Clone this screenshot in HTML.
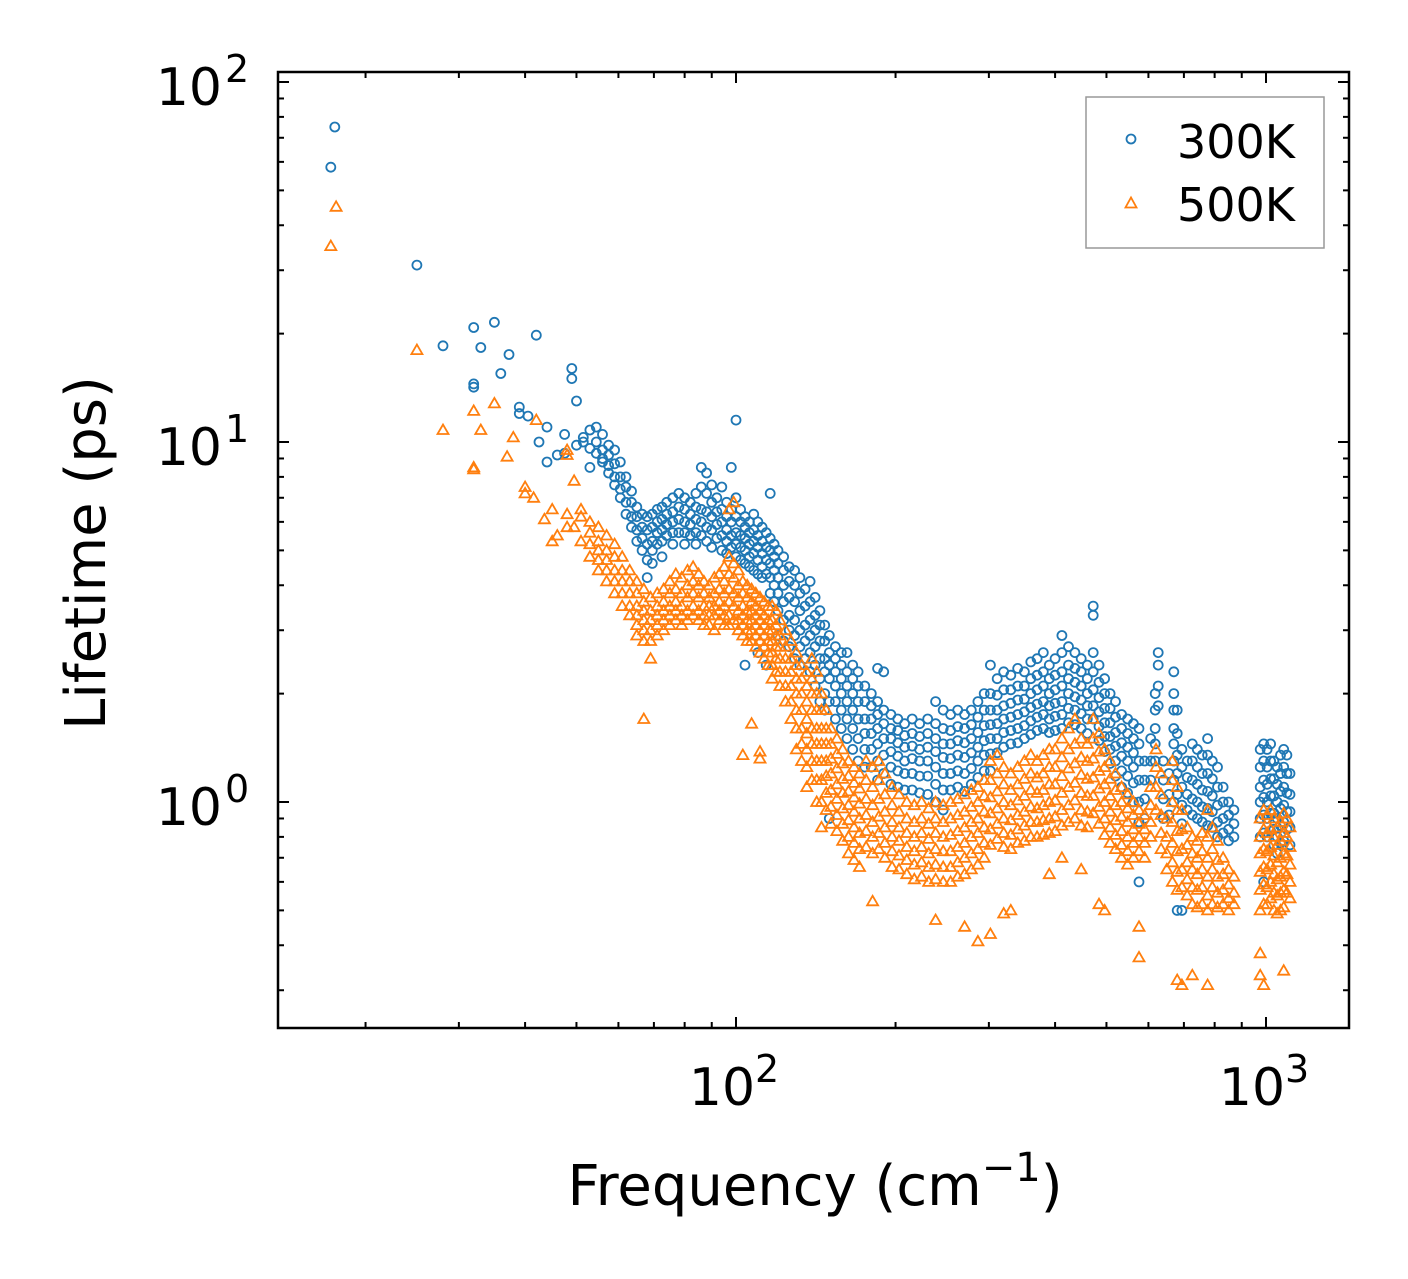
<!DOCTYPE html>
<html><head><meta charset="utf-8"><style>
html,body{margin:0;padding:0;background:#fff;}
svg{display:block;font-family:"DejaVu Sans","Liberation Sans",sans-serif;}
</style></head><body>
<svg id="chart" width="1408" height="1279" viewBox="0 0 1408 1279" xmlns="http://www.w3.org/2000/svg">
<rect x="0" y="0" width="1408" height="1279" fill="#fff"/>
<g id="marks300"></g>
<g id="marks500"></g>
<g id="axes"></g>
<g>
<rect x="1086" y="97" width="238" height="151" fill="#fff" stroke="#999" stroke-width="1.5"/>
<circle cx="1131" cy="139" r="4.5" fill="none" stroke="#1f77b4" stroke-width="1.8"/>
<text x="1177" y="158" font-size="46">300K</text>
<path d="M1125.5,207.5 L1136.5,207.5 L1131,197.5 Z" fill="none" stroke="#ff7f0e" stroke-width="1.8"/>
<text x="1177" y="221" font-size="46">500K</text>
</g>
<text x="815" y="1205" font-size="56" text-anchor="middle">Frequency (cm<tspan dy="-24" font-size="40">−1</tspan><tspan dy="24">)</tspan></text>
<text transform="translate(105,553) rotate(-90)" font-size="56" text-anchor="middle">Lifetime (ps)</text>
</svg>
<script>
const freq300=[17.2,17.5,25,28,32,33,35,36,37.3,39,40.5,42,42.5,44,46,47.5,49,50,51.5,53,54.5,56,57.5,59,60.5,62,63.5,65,66.5,68,69.5,71,72.5,74,76,78,80,82,84,86,88,90,92,94,96,98,100,102,104,106,108,110,112,114,116,118,120,123,126,129,132,135,138,141,144,147,150,154,158,162,166,170,175,180,185,190,196,202,208,215,222,230,238,246,254,262,270,278,286,294,302,311,320,330,340,350,360,370,380,390,400,412,424,436,448,460,472,484,496,508,520,534,548,562,576,590,606,618,626,640,656,670,680,694,710,726,742,758,776,792,810,830,850,870,975,990,1005,1020,1035,1050,1065,1080,1095,1110];
const life300=[[58],[75],[31],[18.5],[20.8,14.5,14.2],[18.3],[21.5],[15.5],[17.5],[12.5,12],[11.8],[19.8],[10],[8.8,11],[9.2],[10.5,9.3],[16,15],[13,9.8],[10,10.3],[10.8,8.5,9.6],[11,10,9.3],[10.5,9.5,9,8.8],[9.8,9.2,8.6,8.2],[9.5,8.7,8,7.6],[8.8,8,7.4,7],[8,7.5,6.8,6.3],[7.3,6.8,6.2,5.8],[6.6,6.2,5.7,5.3],[6.3,5.8,5.4,5],[6.2,5.7,5.2,4.7,4.2],[6.3,5.8,5.3,5,4.6],[6.5,6,5.6,5.2],[6.6,6.1,5.7,5.3,4.8],[6.8,6.3,5.9,5.5],[7,6.4,6,5.6,5.2],[7.2,6.6,6.1,5.6],[7,6.5,6,5.6,5.2],[6.8,6.3,5.9,5.5],[7.2,6.6,6.1,5.6,5.2],[8.5,7.5,6.5,6,5.5],[8.2,7.2,6.4,5.8,5.3],[7.6,6.8,6.2,5.7,5.1],[7,6.4,5.9,5.4],[7.5,6.5,6,5.5,5],[6.8,6.2,5.7,5.3,4.9],[8.5,6.5,6,5.5,5.1],[11.5,7,6.2,5.6,5.2,4.8],[6.5,6,5.5,5.1,4.7],[6.2,5.8,5.4,5,4.6,2.4],[6,5.6,5.2,4.8,4.5],[6.3,5.7,5.3,4.9,4.4],[6,5.5,5.1,4.7,4.3,2.6],[5.8,5.3,4.9,4.5,4.2],[5.6,5.1,4.7,4.3,2.4],[7.2,5.4,5,4.6,4.2,3.8],[5.2,4.8,4.4,4,3.6],[5,4.6,4.2,3.8,3.4,2.9],[4.8,4.4,4,3.6,3.2,2.8],[4.5,4.1,3.7,3.3,3,2.7],[4.4,4,3.6,3.2,2.9,2.5],[4.2,3.8,3.4,3,2.7,2.4],[3.9,3.5,3.1,2.8,2.5],[4.1,3.6,3.2,2.9,2.6,2.3],[3.7,3.3,3,2.7,2.4,2.1],[3.4,3.1,2.8,2.5,2.2,1.9],[3.1,2.8,2.5,2.3,2,1.8],[2.9,2.6,2.4,2.2,1.9,0.9],[2.7,2.5,2.3,2.1,1.9,1.7],[2.6,2.4,2.2,2,1.8,1.6],[2.6,2.3,2.1,1.9,1.7,1.5],[2.4,2.2,2,1.8,1.6,1.4],[2.3,2.1,1.9,1.7,1.5,1.3],[2.1,1.9,1.7,1.55,1.4,1.25],[2,1.85,1.7,1.55,1.4,1.25],[2.35,1.9,1.75,1.6,1.45,1.3,1.15],[2.3,1.8,1.65,1.5,1.35,1.2],[1.75,1.6,1.5,1.38,1.25,1.12],[1.7,1.58,1.46,1.34,1.22,1.1],[1.65,1.53,1.42,1.3,1.2,1.08],[1.7,1.55,1.43,1.32,1.2,1.08],[1.65,1.52,1.4,1.3,1.18,1.06],[1.7,1.55,1.42,1.3,1.18,1.05],[1.9,1.65,1.5,1.38,1.25,1.12,1.0],[1.8,1.6,1.45,1.33,1.2,1.08,0.95],[1.75,1.58,1.45,1.32,1.2,1.08],[1.8,1.62,1.48,1.35,1.22,1.1],[1.75,1.6,1.46,1.33,1.2,1.07],[1.8,1.64,1.5,1.37,1.24,1.12],[1.9,1.72,1.56,1.42,1.3,1.17],[2.0,1.8,1.63,1.48,1.35,1.22],[2.4,2.0,1.8,1.64,1.5,1.36,1.22],[2.2,1.98,1.8,1.65,1.5,1.37],[2.3,2.05,1.85,1.7,1.56,1.42],[2.25,2.05,1.88,1.72,1.58,1.45],[2.35,2.1,1.92,1.75,1.6,1.46],[2.3,2.1,1.93,1.78,1.63,1.5],[2.45,2.2,2,1.83,1.68,1.54],[2.5,2.25,2.05,1.87,1.72,1.58],[2.6,2.3,2.1,1.9,1.75,1.6],[2.4,2.2,2,1.85,1.7,1.56],[2.5,2.25,2.05,1.88,1.73,1.58],[2.9,2.6,2.3,2.1,1.9,1.75,1.6],[2.7,2.4,2.2,2,1.82,1.66],[2.6,2.35,2.15,1.96,1.8,1.64],[2.5,2.3,2.1,1.92,1.76,1.6],[2.4,2.2,2,1.85,1.7,1.55],[3.5,3.3,2.6,2.3,2.05,1.85,1.7],[2.4,2.15,1.95,1.78,1.62,1.48],[2.2,2,1.82,1.66,1.52,1.38],[2,1.82,1.66,1.52,1.4,1.28],[1.9,1.72,1.56,1.43,1.3,1.18],[1.75,1.6,1.46,1.34,1.22,1.1],[1.7,1.55,1.42,1.3,1.18,1.06],[1.65,1.5,1.37,1.25,1.13,1.0],[1.6,1.45,1.3,1.15,1.0,0.88,0.6],[1.3,1.15,1.02,0.9],[1.5,1.3,1.15],[2.0,1.8,1.6,1.45,1.3],[2.6,2.4,2.1,1.85],[1.3,1.15,1.02,0.9],[1.2,1.05,0.92],[2.3,2.0,1.8,1.6,1.45,1.3,1.15,1.0],[1.8,1.55,1.35,1.2,1.05,0.5],[1.4,1.25,1.1,0.98,0.87,0.5],[1.3,1.17,1.05,0.95],[1.45,1.3,1.15,1.02,0.92],[1.4,1.25,1.12,1,0.9],[1.35,1.2,1.08,0.97,0.88],[1.5,1.35,1.2,1.07,0.96,0.86],[1.3,1.16,1.04,0.94,0.85],[1.25,1.1,0.98,0.88,0.8],[1.1,1,0.9,0.82],[1.0,0.92,0.84,0.78],[0.95,0.87,0.8],[1.4,1.25,1.1,1,0.9,0.8],[1.45,1.3,1.15,1.03,0.92,0.82,0.6],[1.4,1.25,1.12,1,0.9,0.8],[1.45,1.3,1.16,1.04,0.93,0.83],[1.3,1.16,1.04,0.93,0.84,0.76],[1.25,1.12,1,0.9,0.8,0.72],[1.35,1.2,1.07,0.96,0.86,0.77],[1.4,1.25,1.1,0.98,0.88,0.78],[1.35,1.2,1.06,0.94,0.84],[1.2,1.05,0.94,0.85,0.76]];
const freq500=[17.2,17.6,25,28,32,33,35,37,38,40,41.5,42,43.5,45,46,48,49.5,51,53,55,57,59,61,63,65,67,69,71,73,75,77,79,81,83,85,87,89,91,93,95,97,99,101,103,105,107,109,111,113,115,117,119,121,124,127,130,133,136,139,142,145,148,151,155,159,163,167,171,176,181,186,191,197,203,210,217,224,231,238,246,254,262,270,278,286,294,302,311,320,330,340,350,360,370,380,390,400,412,424,436,448,460,472,484,496,508,520,534,548,562,576,590,606,620,634,650,666,680,694,710,726,742,758,776,792,810,830,850,870,975,990,1005,1020,1035,1050,1065,1080,1095,1110];
const life500=[[35],[45],[18],[10.8],[12.2,8.5,8.4],[10.8],[12.8],[9.1],[10.3],[7.5,7.2],[7],[11.5],[6.1],[6.5,5.3],[5.5],[6.3,5.8,9.5,9.2],[5.8,7.8],[6.2,5.3,6.5],[6,5.6,5.2,4.8],[5.8,5.3,5,4.7,4.4],[5.5,5,4.7,4.4,4.1],[5.2,4.8,4.4,4.1,3.8],[4.8,4.4,4.1,3.8,3.5],[4.4,4.1,3.8,3.5,3.3],[4.1,3.8,3.5,3.3,3.1,2.9],[3.9,3.6,3.4,3.2,3.0,2.8,1.7],[3.7,3.4,3.2,3.0,2.8,2.5],[3.8,3.5,3.3,3.1,2.9],[3.9,3.6,3.4,3.2,3.0],[4.1,3.8,3.5,3.3,3.1],[4.3,3.9,3.6,3.4,3.2],[4.2,3.8,3.5,3.3,3.1],[4.4,4.0,3.7,3.4,3.2],[4.5,4.1,3.8,3.5,3.3],[4.3,4,3.7,3.4,3.2],[4.1,3.8,3.5,3.3,3.1],[4,3.7,3.5,3.3,3.1],[4.2,3.8,3.5,3.3,3.0],[4.3,3.9,3.6,3.4,3.2],[4.5,4.1,3.8,3.5,3.3,3.1],[6.5,4.8,4.3,3.9,3.6,3.3,3.1],[6.8,4.6,4.2,3.8,3.5,3.2],[4.4,4.0,3.7,3.4,3.2,3.0],[4.1,3.8,3.5,3.3,3.1,2.9,1.35],[4,3.7,3.4,3.2,3.0,2.8],[3.9,3.6,3.4,3.2,3.0,2.8,1.65],[3.8,3.5,3.3,3.1,2.9,2.7],[3.7,3.4,3.2,3.0,2.8,2.6,1.38,1.32],[3.6,3.3,3.1,2.9,2.7,2.5],[3.5,3.2,3.0,2.8,2.6,2.4],[3.5,3.2,3.0,2.8,2.6,2.4,2.2],[3.4,3.1,2.9,2.7,2.5,2.3],[3.2,2.9,2.7,2.5,2.3,2.1],[3.0,2.7,2.5,2.3,2.1,1.9],[2.8,2.5,2.3,2.1,1.9,1.7],[2.6,2.4,2.2,2.0,1.8,1.6,1.4],[2.4,2.2,2.0,1.8,1.6,1.45,1.3],[2.3,2.1,1.9,1.7,1.55,1.4,1.25,1.1],[2.5,2.2,2.0,1.8,1.6,1.45,1.3,1.15],[2.3,2.0,1.8,1.6,1.45,1.3,1.15,1.0],[2.0,1.8,1.6,1.45,1.3,1.15,1.0,0.85],[1.8,1.6,1.45,1.3,1.18,1.06,0.95],[1.6,1.45,1.32,1.2,1.08,0.97,0.87],[1.5,1.36,1.24,1.12,1.02,0.92,0.83],[1.4,1.28,1.16,1.06,0.96,0.87,0.78],[1.3,1.18,1.07,0.98,0.89,0.8,0.72],[1.25,1.13,1.03,0.94,0.85,0.77,0.69],[1.2,1.09,0.99,0.9,0.82,0.74,0.66],[1.3,1.15,1.02,0.92,0.83,0.75],[1.25,1.1,0.98,0.88,0.8,0.72,0.53],[1.3,1.15,1.02,0.91,0.82,0.74],[1.2,1.05,0.94,0.85,0.77,0.7],[1.1,0.98,0.88,0.8,0.73,0.66],[1.05,0.94,0.85,0.78,0.71,0.65],[1.0,0.9,0.82,0.75,0.69,0.63],[0.98,0.88,0.8,0.73,0.67,0.61],[1.0,0.9,0.82,0.75,0.68,0.62],[0.96,0.87,0.79,0.72,0.66,0.6],[1.0,0.9,0.82,0.74,0.67,0.61,0.47],[0.98,0.88,0.8,0.73,0.66,0.6],[1.0,0.9,0.81,0.73,0.66,0.6],[1.02,0.92,0.83,0.75,0.68,0.62],[1.05,0.94,0.85,0.77,0.7,0.63,0.45],[1.08,0.97,0.88,0.8,0.72,0.65],[1.1,1.0,0.9,0.82,0.74,0.67,0.41],[1.15,1.04,0.94,0.85,0.77,0.7],[1.3,1.15,1.03,0.93,0.84,0.76,0.43],[1.35,1.2,1.07,0.96,0.87,0.79],[1.25,1.12,1.0,0.9,0.82,0.75,0.49],[1.2,1.08,0.98,0.89,0.81,0.74,0.5],[1.25,1.12,1.01,0.92,0.84,0.77],[1.3,1.16,1.04,0.94,0.86,0.78],[1.35,1.2,1.08,0.97,0.88,0.8],[1.3,1.17,1.06,0.96,0.88,0.8],[1.35,1.2,1.08,0.98,0.89,0.81],[1.4,1.25,1.12,1.0,0.9,0.82,0.63],[1.4,1.25,1.12,1.01,0.91,0.83],[1.5,1.33,1.18,1.06,0.95,0.86,0.7],[1.6,1.4,1.24,1.1,0.98,0.88],[1.7,1.45,1.28,1.13,1.01,0.9],[1.5,1.33,1.19,1.06,0.95,0.86,0.65],[1.45,1.3,1.16,1.04,0.94,0.85],[1.7,1.5,1.32,1.17,1.04,0.93],[1.55,1.38,1.22,1.09,0.97,0.87,0.52],[1.4,1.25,1.12,1.0,0.9,0.81,0.5],[1.3,1.16,1.04,0.94,0.85,0.77],[1.2,1.08,0.98,0.89,0.81,0.74],[1.1,1.0,0.91,0.83,0.76,0.7],[1.05,0.96,0.88,0.8,0.73,0.67],[1.0,0.92,0.84,0.77,0.7],[0.95,0.87,0.8,0.73,0.45,0.37],[0.92,0.84,0.77,0.7],[1.1,0.98,0.88,0.8],[1.4,1.25,1.1,0.95],[1.2,1.05,0.92,0.82,0.74],[0.9,0.8,0.72,0.65],[1.3,1.15,1.0,0.88,0.77,0.68,0.6],[1.1,0.95,0.83,0.73,0.64,0.57,0.32],[0.95,0.84,0.74,0.65,0.58,0.31],[0.85,0.76,0.68,0.61,0.55],[0.8,0.72,0.65,0.58,0.52,0.33],[0.78,0.7,0.63,0.57,0.51],[0.82,0.73,0.65,0.58,0.52],[0.95,0.8,0.7,0.62,0.55,0.5,0.31],[0.85,0.74,0.65,0.58,0.52],[0.78,0.69,0.62,0.56,0.51],[0.7,0.63,0.57,0.52],[0.65,0.59,0.54,0.5],[0.62,0.56,0.52],[0.9,0.8,0.72,0.64,0.57,0.5,0.38,0.33],[0.95,0.84,0.74,0.66,0.59,0.52,0.31],[0.92,0.82,0.73,0.65,0.58,0.52],[0.95,0.84,0.75,0.67,0.6,0.54],[0.9,0.8,0.71,0.63,0.56,0.5],[0.85,0.76,0.68,0.61,0.55,0.49],[0.88,0.78,0.7,0.62,0.56,0.5],[0.93,0.82,0.72,0.64,0.57,0.51,0.34],[0.9,0.8,0.71,0.63,0.56],[0.85,0.75,0.67,0.6,0.54]];
const xMajorTicks=[100,1000];
const xTickLabels=["2","3"];
const yMajorTicks=[1,10,100];
const yTickLabels=["0","1","2"];

const NS="http://www.w3.org/2000/svg";
const L=278,R=1349,T=72,B=1028;
function xs(f){return 736+530*(Math.log10(f)-2);}
function ys(v){return 802-360*Math.log10(v);}
function mk(tag,attrs,parent){const e=document.createElementNS(NS,tag);for(const k in attrs)e.setAttribute(k,attrs[k]);parent.appendChild(e);return e;}

const g3=document.getElementById('marks300');
freq300.forEach((f,i)=>{life300[i].forEach(v=>{
  const c=mk('circle',{cx:xs(f).toFixed(1),cy:ys(v).toFixed(1),r:4.5,fill:'none',stroke:'#1f77b4','stroke-width':1.8},g3);
  
  
});});
const g5=document.getElementById('marks500');
freq500.forEach((f,i)=>{life500[i].forEach(v=>{
  const x=xs(f),y=ys(v);
  const p=mk('path',{d:`M${(x-5.5).toFixed(1)},${(y+4).toFixed(1)} L${(x+5.5).toFixed(1)},${(y+4).toFixed(1)} L${x.toFixed(1)},${(y-5.5).toFixed(1)} Z`,fill:'none',stroke:'#ff7f0e','stroke-width':1.8},g5);
  
  
});});

const ax=document.getElementById('axes');
const frame=mk('rect',{x:L,y:T,width:R-L,height:B-T,fill:'none',stroke:'#000','stroke-width':2.5},ax);


for(let d=10;d<=1000;d*=10){for(let m=1;m<10;m++){const f=d*m;const x=xs(f);if(x<L||x>R)continue;
  const len=(m===1)?11:6;
  const t1=mk('line',{x1:x,y1:B,x2:x,y2:B-len,stroke:'#000','stroke-width':2},ax);
  
  
  const t2=mk('line',{x1:x,y1:T,x2:x,y2:T+len,stroke:'#000','stroke-width':2},ax);
  
  
}}
xMajorTicks.forEach((f,i)=>{
  const t=mk('text',{x:xs(f)-14,y:1105,'font-size':52,'text-anchor':'middle'},ax);
  
  
  t.textContent='10';
  const s=mk('text',{x:xs(f)+19,y:1082,'font-size':38},ax);
  
  
  s.textContent=xTickLabels[i];
});
for(let d=0.1;d<=100;d*=10){for(let m=1;m<10;m++){const v=d*m;const y=ys(v);if(y<T-0.5||y>B)continue;
  const len=(m===1)?11:6;
  const t1=mk('line',{x1:L,y1:y,x2:L+len,y2:y,stroke:'#000','stroke-width':2},ax);
  
  
  const t2=mk('line',{x1:R,y1:y,x2:R-len,y2:y,stroke:'#000','stroke-width':2},ax);
  
  
}}
yMajorTicks.forEach((v,i)=>{
  const t=mk('text',{x:222,y:ys(v)+23,'font-size':52,'text-anchor':'end'},ax);
  
  
  t.textContent='10';
  const s=mk('text',{x:225,y:ys(v),'font-size':38},ax);
  
  
  s.textContent=yTickLabels[i];
});
</script>
</body></html>
